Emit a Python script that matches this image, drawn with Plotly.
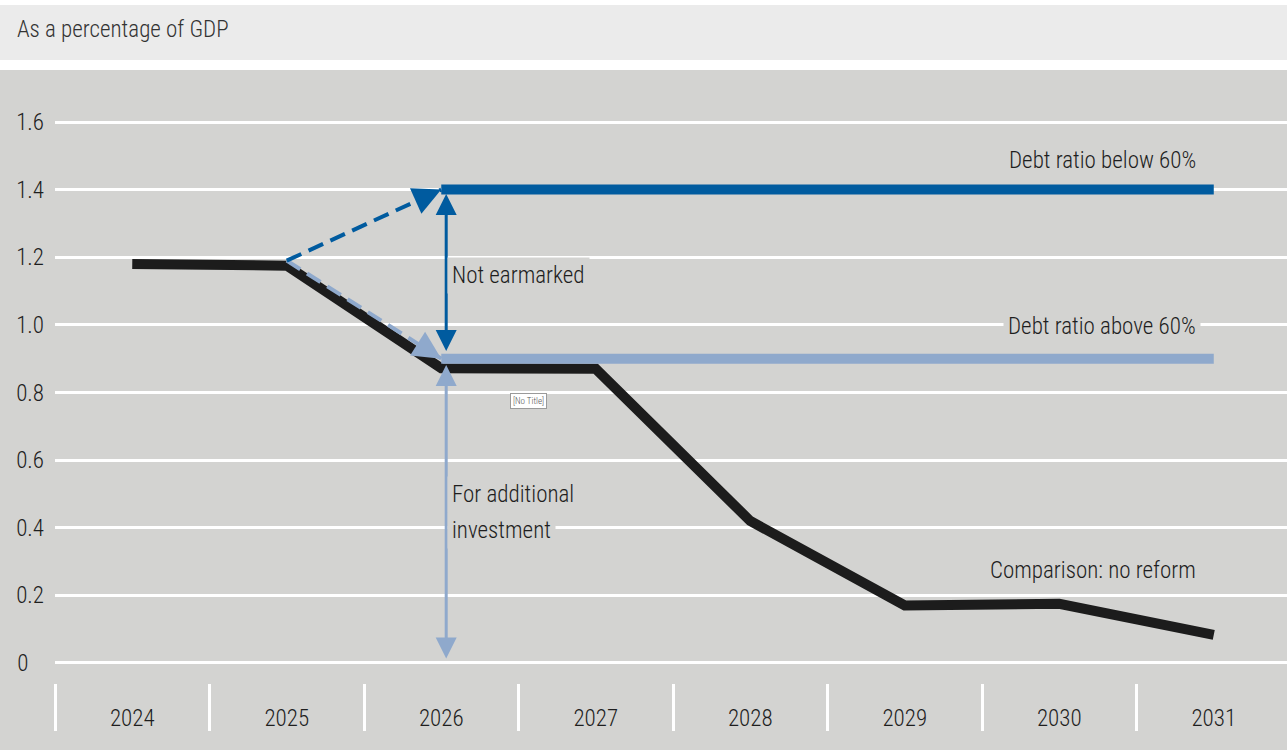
import plotly.graph_objects as go

years = ["2024", "2025", "2026", "2027", "2028", "2029", "2030", "2031"]
no_reform = [1.18, 1.175, 0.872, 0.87, 0.42, 0.17, 0.175, 0.083]

below60_years = ["2026", "2027", "2028", "2029", "2030", "2031"]
below60 = [1.40, 1.40, 1.40, 1.40, 1.40, 1.40]
above60 = [0.90, 0.90, 0.90, 0.90, 0.90, 0.90]

bridge_years = ["2025", "2026"]
bridge_below = [1.19, 1.40]
bridge_above = [1.19, 0.90]

y_ticks = [0, 0.2, 0.4, 0.6, 0.8, 1.0, 1.2, 1.4, 1.6]
y_ticktext = ["0\u00a0\u00a0\u00a0", "0.2", "0.4", "0.6", "0.8", "1.0", "1.2", "1.4", "1.6"]

DARK = "#005b9f"
LIGHT = "#8fa9cc"
BLACK = "#1c1c1c"
BG = "#d3d3d1"
TXT = "#1e1e1e"
FONT = "Roboto Condensed, Liberation Sans Narrow, Arial Narrow, sans-serif"
FS = 23
W = 300

fig = go.Figure()
fig.add_trace(go.Scatter(x=years, y=no_reform, mode="lines",
                         line=dict(color=BLACK, width=10), hoverinfo="skip"))
fig.add_trace(go.Scatter(x=bridge_years, y=bridge_above, mode="lines",
                         line=dict(color=LIGHT, width=4, dash="16px,8px"), hoverinfo="skip"))
fig.add_trace(go.Scatter(x=bridge_years, y=bridge_below, mode="lines",
                         line=dict(color=DARK, width=4, dash="16px,8px"), hoverinfo="skip"))
fig.add_trace(go.Scatter(x=below60_years, y=above60, mode="lines",
                         line=dict(color=LIGHT, width=10), hoverinfo="skip"))
fig.add_trace(go.Scatter(x=below60_years, y=below60, mode="lines",
                         line=dict(color=DARK, width=10), hoverinfo="skip"))

annotations = []
# arrowheads at the end of the dashed bridges
annotations.append(dict(x=2, y=bridge_below[1], xref="x", yref="y", ax=-13, ay=5.8,
                        showarrow=True, arrowhead=2, arrowsize=1.6, arrowwidth=3.5,
                        arrowcolor=DARK, text=""))
annotations.append(dict(x=2, y=bridge_above[1], xref="x", yref="y", ax=-12, ay=-7.6,
                        showarrow=True, arrowhead=2, arrowsize=1.6, arrowwidth=3.5,
                        arrowcolor=LIGHT, text=""))
# vertical double arrows
annotations.append(dict(x=2.032, y=1.387, ax=2.032, ay=0.918, xref="x", yref="y",
                        axref="x", ayref="y", showarrow=True, arrowhead=2, arrowside="end+start",
                        arrowsize=1.4, arrowwidth=3, arrowcolor=DARK, text=""))
annotations.append(dict(x=2.032, y=0.881, ax=2.032, ay=0.009, xref="x", yref="y",
                        axref="x", ayref="y", showarrow=True, arrowhead=2, arrowside="end+start",
                        arrowsize=1.4, arrowwidth=3, arrowcolor=LIGHT, text=""))

def label(text, x, y, xanchor):
    annotations.append(dict(x=x, y=y, xref="x", yref="y", text=text, showarrow=False,
                            xanchor=xanchor, yanchor="middle", align="left",
                            bgcolor=BG, borderpad=4,
                            font=dict(family=FONT, size=FS, color=TXT, weight=W)))

label("Debt ratio below 60%", 6.915, 1.485, "right")
label("Not earmarked", 2.035, 1.147, "left")
label("Debt ratio above 60%", 6.915, 0.994, "right")
label("For additional", 2.035, 0.497, "left")
label("investment", 2.035, 0.392, "left")
label("Comparison: no reform", 6.915, 0.275, "right")

annotations.append(dict(x=2.563, y=0.775, xref="x", yref="y", text="[No Title]", showarrow=False,
                        bgcolor="white", bordercolor="#9a9a9a", borderwidth=1, borderpad=2,
                        font=dict(family=FONT, size=9, color="#555555")))

# plot area on screen x 55..1287, y 70..683
PW = 1232
PH = 613
annotations.append(dict(x=-40 / PW, y=(683 - 30) / PH, xref="paper", yref="paper",
                        text="As a percentage of GDP", showarrow=False, xanchor="left",
                        yanchor="middle", font=dict(family=FONT, size=FS, color="#333333", weight=W)))

shapes = [
    dict(type="rect", xref="paper", yref="paper", x0=-0.2, x1=1.2,
         y0=(683 - 60) / PH, y1=(683 - 5) / PH, fillcolor="#ebebeb", line=dict(width=0),
         layer="below"),
    dict(type="rect", xref="paper", yref="paper", x0=-0.2, x1=1.2,
         y0=-0.3, y1=1.0, fillcolor=BG, line=dict(width=0), layer="below"),
]

fig.update_layout(
    width=1287, height=750,
    margin=dict(l=55, r=0, t=70, b=67),
    paper_bgcolor="white", plot_bgcolor=BG,
    showlegend=False,
    font=dict(family=FONT, size=FS, color=TXT, weight=W),
    annotations=annotations, shapes=shapes,
    xaxis=dict(type="category", categoryorder="array", categoryarray=years,
               range=[-0.5, 7.474], tickson="boundaries", ticks="outside", ticklen=47,
               tickwidth=3, tickcolor="white", showgrid=False, showline=False, zeroline=False,
               ticklabelstandoff=19, tickfont=dict(family=FONT, size=FS, color=TXT, weight=W)),
    yaxis=dict(range=[-0.0592, 1.7538], tickvals=y_ticks, ticktext=y_ticktext,
               showgrid=True, gridcolor="white", gridwidth=3, zeroline=False,
               showline=False, ticks="", ticklabelstandoff=10,
               tickfont=dict(family=FONT, size=FS, color=TXT, weight=W)),
)

fig.write_html("out.html", config={"displayModeBar": False},
               post_script="document.body.style.margin='0';")
